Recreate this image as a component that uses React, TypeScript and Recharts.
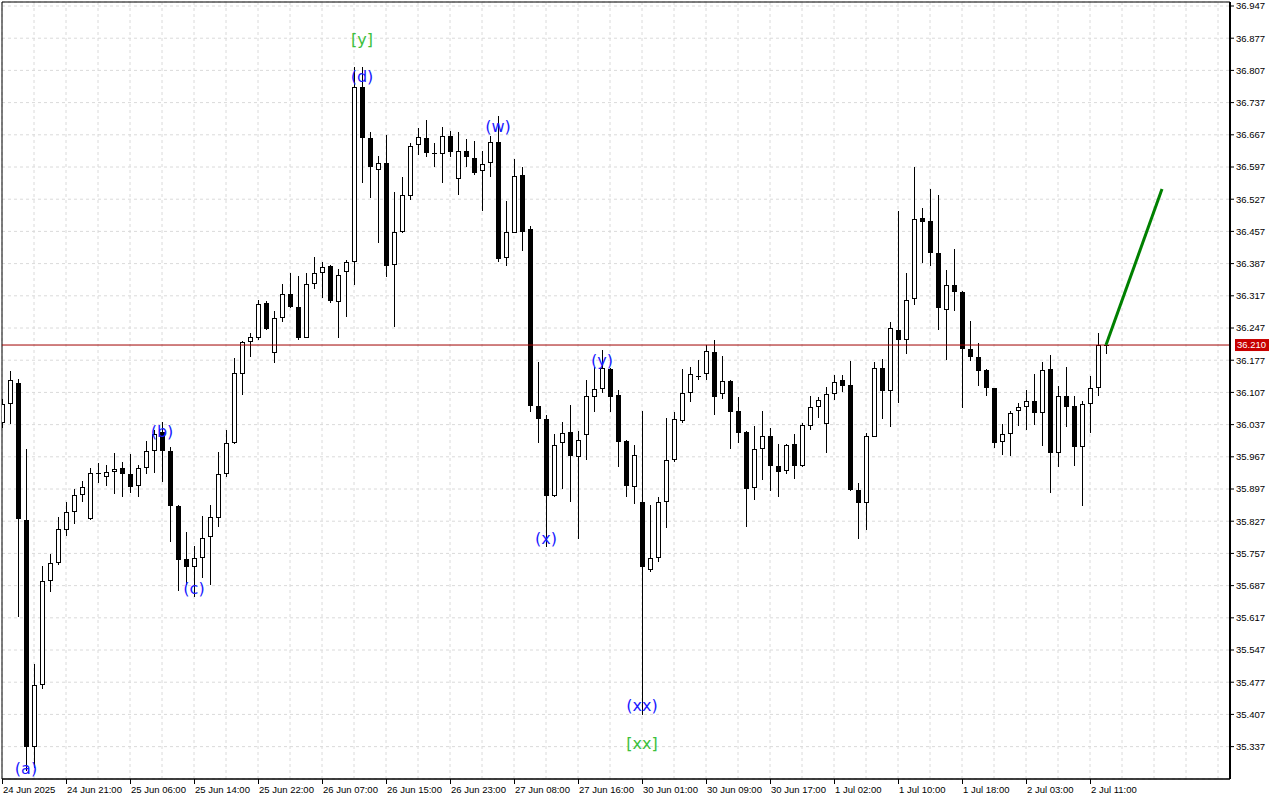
import {
  ComposedChart,
  Bar,
  Line,
  XAxis,
  YAxis,
  CartesianGrid,
  ReferenceLine,
  ReferenceDot,
  ReferenceArea,
} from "recharts";

// hourly OHLC, XAGUSD-like
const opens = [
  36.040, 36.081, 36.128, 35.830, 35.337, 35.470, 35.697, 35.736, 35.807, 35.846,
  35.884, 35.831, 35.929, 35.924, 35.935, 35.943, 35.929, 35.903, 35.942, 35.979,
  36.022, 35.980, 35.861, 35.744, 35.727, 35.746, 35.792, 35.835, 35.929, 35.996,
  36.148, 36.216, 36.226, 36.302, 36.192, 36.268, 36.322, 36.292, 36.226, 36.343,
  36.366, 36.382, 36.304, 36.368, 36.390, 36.770, 36.659, 36.590, 36.605, 36.385,
  36.455, 36.535, 36.645, 36.659, 36.627, 36.625, 36.665, 36.572, 36.632, 36.616,
  36.588, 36.605, 36.651, 36.399, 36.454, 36.580, 36.462, 36.077, 36.049, 35.882,
  35.996, 36.020, 35.966, 36.014, 36.098, 36.114, 36.158, 36.101, 36.001, 35.902,
  35.868, 35.722, 35.748, 35.868, 35.959, 36.045, 36.105, 36.141, 36.146, 36.194,
  36.103, 36.132, 36.067, 36.020, 35.900, 35.983, 36.012, 35.947, 35.937, 35.995,
  35.947, 36.035, 36.075, 36.038, 36.103, 36.134, 36.123, 35.895, 35.866, 36.011,
  36.161, 36.109, 36.243, 36.222, 36.309, 36.486, 36.480, 36.409, 36.286, 36.340,
  36.325, 36.201, 36.183, 36.156, 36.116, 35.999, 36.016, 36.067, 36.075, 36.088,
  36.062, 36.157, 35.975, 36.099, 36.077, 35.989, 36.081, 36.116, 36.210,
];
const highs = [
  36.093, 36.154, 36.136, 35.984, 35.516, 35.730, 35.756, 35.837, 35.869, 35.897,
  35.915, 35.943, 35.954, 35.949, 35.975, 35.955, 35.973, 35.949, 36.001, 36.025,
  36.042, 35.989, 35.862, 35.803, 35.773, 35.838, 35.862, 35.978, 36.025, 36.181,
  36.219, 36.237, 36.308, 36.306, 36.284, 36.343, 36.367, 36.359, 36.366, 36.402,
  36.391, 36.384, 36.375, 36.395, 36.815, 36.815, 36.674, 36.621, 36.667, 36.542,
  36.576, 36.649, 36.681, 36.699, 36.649, 36.683, 36.676, 36.674, 36.657, 36.654,
  36.632, 36.664, 36.708, 36.523, 36.614, 36.598, 36.469, 36.173, 36.058, 36.017,
  36.043, 36.080, 36.024, 36.134, 36.163, 36.199, 36.160, 36.112, 36.003, 35.993,
  36.067, 35.862, 35.879, 36.051, 36.065, 36.158, 36.163, 36.177, 36.210, 36.221,
  36.186, 36.134, 36.098, 36.023, 36.034, 36.067, 36.029, 35.995, 35.995, 36.017,
  36.041, 36.099, 36.098, 36.119, 36.145, 36.145, 36.175, 35.909, 36.018, 36.173,
  36.179, 36.261, 36.501, 36.366, 36.598, 36.507, 36.549, 36.536, 36.373, 36.419,
  36.328, 36.262, 36.214, 36.158, 36.117, 36.038, 36.067, 36.083, 36.112, 36.147,
  36.174, 36.188, 36.121, 36.162, 36.099, 36.088, 36.143, 36.236, 36.212,
];
const lows = [
  36.030, 36.038, 35.619, 35.285, 35.290, 35.462, 35.674, 35.732, 35.795, 35.822,
  35.869, 35.829, 35.910, 35.904, 35.886, 35.880, 35.889, 35.880, 35.929, 35.932,
  35.913, 35.782, 35.676, 35.688, 35.663, 35.704, 35.688, 35.814, 35.924, 35.994,
  36.101, 36.185, 36.221, 36.243, 36.171, 36.261, 36.291, 36.221, 36.225, 36.331,
  36.312, 36.301, 36.226, 36.272, 36.340, 36.563, 36.529, 36.431, 36.358, 36.249,
  36.453, 36.525, 36.623, 36.619, 36.596, 36.562, 36.618, 36.536, 36.596, 36.580,
  36.501, 36.575, 36.390, 36.382, 36.453, 36.415, 36.065, 35.998, 35.771, 35.880,
  35.896, 35.869, 35.789, 35.961, 36.065, 36.106, 36.065, 35.944, 35.880, 35.864,
  35.406, 35.717, 35.739, 35.813, 35.956, 36.041, 36.087, 36.134, 36.134, 36.058,
  36.093, 35.983, 35.996, 35.815, 35.873, 35.917, 35.893, 35.880, 35.930, 35.919,
  35.944, 36.025, 36.052, 35.976, 36.090, 36.107, 35.893, 35.789, 35.808, 36.009,
  36.049, 36.032, 36.085, 36.190, 36.297, 36.388, 36.382, 36.243, 36.177, 36.285,
  36.074, 36.176, 36.122, 36.100, 35.987, 35.971, 35.969, 36.034, 36.025, 36.036,
  35.991, 35.889, 35.944, 36.032, 35.948, 35.859, 36.019, 36.099, 36.190,
];
const closes = [
  36.082, 36.134, 35.831, 35.337, 35.470, 35.697, 35.736, 35.809, 35.846, 35.884,
  35.901, 35.931, 35.931, 35.935, 35.940, 35.929, 35.901, 35.942, 35.979, 36.016,
  35.979, 35.859, 35.743, 35.728, 35.746, 35.790, 35.837, 35.929, 35.996, 36.150,
  36.216, 36.227, 36.299, 36.245, 36.268, 36.322, 36.293, 36.226, 36.343, 36.366,
  36.379, 36.306, 36.362, 36.390, 36.770, 36.659, 36.596, 36.605, 36.382, 36.455,
  36.536, 36.643, 36.662, 36.627, 36.628, 36.665, 36.629, 36.632, 36.618, 36.585,
  36.603, 36.651, 36.397, 36.456, 36.577, 36.455, 36.078, 36.049, 35.882, 35.993,
  36.018, 35.969, 36.003, 36.099, 36.114, 36.159, 36.098, 36.000, 35.904, 35.972,
  35.728, 35.748, 35.868, 35.960, 36.049, 36.105, 36.148, 36.142, 36.197, 36.098,
  36.132, 36.065, 36.019, 35.897, 35.984, 36.012, 35.948, 35.935, 35.993, 35.948,
  36.036, 36.075, 36.090, 36.103, 36.130, 36.122, 35.895, 35.867, 36.012, 36.161,
  36.109, 36.248, 36.221, 36.308, 36.483, 36.478, 36.409, 36.290, 36.340, 36.326,
  36.201, 36.185, 36.154, 36.116, 35.998, 36.016, 36.062, 36.075, 36.088, 36.062,
  36.156, 35.975, 36.099, 36.076, 35.989, 36.081, 36.116, 36.210, 36.210,
];

const timeLabels = [
  "24 Jun 2025", "24 Jun 21:00", "25 Jun 06:00", "25 Jun 14:00", "25 Jun 22:00",
  "26 Jun 07:00", "26 Jun 15:00", "26 Jun 23:00", "27 Jun 08:00", "27 Jun 16:00",
  "30 Jun 01:00", "30 Jun 09:00", "30 Jun 17:00", "1 Jul 02:00", "1 Jul 10:00",
  "1 Jul 18:00", "2 Jul 03:00", "2 Jul 11:00",
];

const priceTicks = [
  36.947, 36.877, 36.807, 36.737, 36.667, 36.597, 36.527, 36.457, 36.387, 36.317,
  36.247, 36.177, 36.107, 36.037, 35.967, 35.897, 35.827, 35.757, 35.687, 35.617,
  35.547, 35.477, 35.407, 35.337,
];

const lastPrice = 36.21;

// forecast arrow
const projBars = [138, 145];
const projPrices = [36.21, 36.549];

const BLUE = "#1a1aff";
const GREEN = "#3cc03c";
const waveLabels = [
  { k: 3, price: 35.29, text: "(a)", color: BLUE },
  { k: 20, price: 36.022, text: "(b)", color: BLUE },
  { k: 24, price: 35.68, text: "(c)", color: BLUE },
  { k: 45, price: 36.793, text: "(d)", color: BLUE },
  { k: 45, price: 36.875, text: "[y]", color: GREEN },
  { k: 62, price: 36.686, text: "(w)", color: BLUE },
  { k: 68, price: 35.789, text: "(x)", color: BLUE },
  { k: 75, price: 36.177, text: "(y)", color: BLUE },
  { k: 80, price: 35.426, text: "(xx)", color: BLUE },
  { k: 80, price: 35.345, text: "[xx]", color: GREEN },
];

const X_MIN = 0;
const X_MAX = 153.5;
const Y_MIN = 35.2666;
const Y_MAX = 36.9557;

const data = opens.map((o, i) => ({
  k: i,
  open: o,
  high: highs[i],
  low: lows[i],
  close: closes[i],
  range: [lows[i], highs[i]],
}));

const projection = projBars.map((k, i) => ({ k, proj: projPrices[i] }));

const gridTicks: number[] = [];
for (let k = 0; k <= 152; k += 4) gridTicks.push(k);

const FONT = "'Liberation Sans', Arial, sans-serif";

function Candle(props: any) {
  const { x, y, width, height, payload } = props;
  if (!payload || !Number.isFinite(y) || !Number.isFinite(height)) return <g />;
  const { open, close, high, low } = payload;
  const top0 = Math.min(y, y + height);
  const h = Math.abs(height);
  const toY = (p: number) => top0 + ((high - p) / (high - low)) * h;
  const cx = Math.round(x + width / 2);
  const top = Math.round(toY(Math.max(open, close)));
  const bot = Math.round(toY(Math.min(open, close)));
  const up = close >= open;
  let body;
  if (bot - top < 2) {
    body = <line x1={cx - 2} x2={cx + 3} y1={top + 0.5} y2={top + 0.5} stroke="#000" />;
  } else if (up) {
    body = (
      <rect x={cx - 1.5} y={top + 0.5} width={4} height={bot - top - 1} fill="#fff" stroke="#000" />
    );
  } else {
    body = <rect x={cx - 2} y={top} width={5} height={bot - top} fill="#000" />;
  }
  return (
    <g shapeRendering="crispEdges">
      <line
        x1={cx + 0.5}
        x2={cx + 0.5}
        y1={Math.round(top0)}
        y2={Math.round(top0 + h)}
        stroke="#000"
      />
      {body}
    </g>
  );
}

function TimeTick(props: any) {
  const { x, y, payload } = props;
  const k = payload.value;
  const label = k % 8 === 0 ? timeLabels[k / 8] : undefined;
  if (!label) return <g />;
  return (
    <g>
      <line
        x1={x + 0.5}
        x2={x + 0.5}
        y1={y}
        y2={y + 5}
        stroke="#000"
        shapeRendering="crispEdges"
      />
      <text x={x + 1} y={y + 14} fontSize={9.5} fontFamily={FONT} fill="#000">
        {label}
      </text>
    </g>
  );
}

function PriceBox(props: any) {
  const { viewBox } = props;
  if (!viewBox) return <g />;
  const bx = viewBox.x + viewBox.width + 5;
  const by = viewBox.y;
  return (
    <g>
      <rect x={bx} y={by - 6} width={34} height={12} fill="#c80000" />
      <text
        x={bx + 2}
        y={by}
        dy="0.355em"
        fontSize={9.5}
        fontFamily={FONT}
        fill="#fff"
      >
        {lastPrice.toFixed(3)}
      </text>
    </g>
  );
}

export default function App() {
  return (
    <div
      style={{
        position: "fixed",
        left: 0,
        top: 0,
        width: 1280,
        height: 800,
        background: "#fff",
      }}
    >
      <ComposedChart
        width={1280}
        height={800}
        data={data}
        margin={{ top: 2, right: 0, bottom: 0, left: 2 }}
      >
        <CartesianGrid stroke="#dadada" strokeDasharray="3 3" />
        <XAxis
          dataKey="k"
          type="number"
          domain={[X_MIN, X_MAX]}
          ticks={gridTicks}
          interval={0}
          allowDataOverflow
          height={21}
          tickSize={0}
          tickMargin={0}
          tickLine={false}
          axisLine={{ stroke: "#000" }}
          tick={<TimeTick />}
        />
        <YAxis
          orientation="right"
          type="number"
          domain={[Y_MIN, Y_MAX]}
          ticks={priceTicks}
          interval={0}
          allowDataOverflow
          width={50}
          tickSize={4}
          tickMargin={2}
          axisLine={{ stroke: "#000", strokeWidth: 2 }}
          tickLine={{ stroke: "#000" }}
          tick={{ fontSize: 9.5, fill: "#000", fontFamily: FONT }}
          tickFormatter={(v: number) => v.toFixed(3)}
        />
        <ReferenceArea
          x1={X_MIN}
          x2={X_MAX}
          y1={Y_MIN}
          y2={Y_MAX}
          fill="none"
          fillOpacity={0}
          stroke="#000"
          ifOverflow="visible"
        />
        <ReferenceLine
          y={lastPrice}
          stroke="#a00000"
          strokeWidth={1}
          label={<PriceBox />}
        />
        <Bar
          dataKey="range"
          barSize={5}
          shape={<Candle />}
          isAnimationActive={false}
        />
        <Line
          data={projection}
          dataKey="proj"
          stroke="#008000"
          strokeWidth={3}
          dot={false}
          activeDot={false}
          connectNulls
          isAnimationActive={false}
        />
        {waveLabels.map((l, i) => (
          <ReferenceDot
            key={i}
            x={l.k}
            y={l.price}
            r={0}
            ifOverflow="visible"
            shape={(p: any) => (
              <text
                x={p.cx}
                y={p.cy}
                dy="0.35em"
                textAnchor="middle"
                fontSize={16}
                fontFamily="'DejaVu Sans', sans-serif"
                fill={l.color}
              >
                {l.text}
              </text>
            )}
          />
        ))}
      </ComposedChart>
    </div>
  );
}
